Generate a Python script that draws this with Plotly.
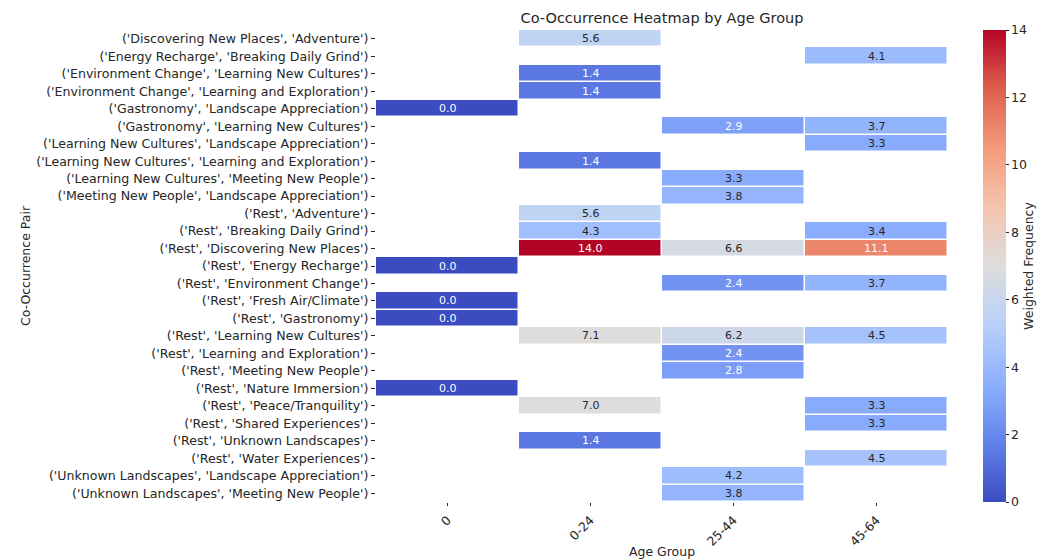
import plotly.graph_objects as go

age_groups = ["0", "0-24", "25-44", "45-64"]

pairs = [
    "('Discovering New Places', 'Adventure')",
    "('Energy Recharge', 'Breaking Daily Grind')",
    "('Environment Change', 'Learning New Cultures')",
    "('Environment Change', 'Learning and Exploration')",
    "('Gastronomy', 'Landscape Appreciation')",
    "('Gastronomy', 'Learning New Cultures')",
    "('Learning New Cultures', 'Landscape Appreciation')",
    "('Learning New Cultures', 'Learning and Exploration')",
    "('Learning New Cultures', 'Meeting New People')",
    "('Meeting New People', 'Landscape Appreciation')",
    "('Rest', 'Adventure')",
    "('Rest', 'Breaking Daily Grind')",
    "('Rest', 'Discovering New Places')",
    "('Rest', 'Energy Recharge')",
    "('Rest', 'Environment Change')",
    "('Rest', 'Fresh Air/Climate')",
    "('Rest', 'Gastronomy')",
    "('Rest', 'Learning New Cultures')",
    "('Rest', 'Learning and Exploration')",
    "('Rest', 'Meeting New People')",
    "('Rest', 'Nature Immersion')",
    "('Rest', 'Peace/Tranquility')",
    "('Rest', 'Shared Experiences')",
    "('Rest', 'Unknown Landscapes')",
    "('Rest', 'Water Experiences')",
    "('Unknown Landscapes', 'Landscape Appreciation')",
    "('Unknown Landscapes', 'Meeting New People')",
]

# values per age group column (None = no data)
age_0 = [None, None, None, None, 0.0, None, None, None, None, None, None, None, None, 0.0,
         None, 0.0, 0.0, None, None, None, 0.0, None, None, None, None, None, None]
age_0_24 = [5.6, None, 1.4, 1.4, None, None, None, 1.4, None, None, 5.6, 4.3, 14.0, None,
            None, None, None, 7.1, None, None, None, 7.0, None, 1.4, None, None, None]
age_25_44 = [None, None, None, None, None, 2.9, None, None, 3.3, 3.8, None, None, 6.6, None,
             2.4, None, None, 6.2, 2.4, 2.8, None, None, None, None, None, 4.2, 3.8]
age_45_64 = [None, 4.1, None, None, None, 3.7, 3.3, None, None, None, None, 3.4, 11.1, None,
             3.7, None, None, 4.5, None, None, None, 3.3, 3.3, None, 4.5, None, None]

columns = [age_0, age_0_24, age_25_44, age_45_64]
z = [[col[i] for col in columns] for i in range(len(pairs))]

zmin, zmax = 0, 14
coolwarm_pts = [
    (0.0, (59, 76, 192)),
    (0.125, (98, 130, 234)),
    (0.25, (141, 176, 254)),
    (0.375, (184, 208, 249)),
    (0.5, (221, 221, 221)),
    (0.625, (245, 196, 173)),
    (0.75, (244, 154, 123)),
    (0.875, (222, 96, 77)),
    (1.0, (180, 4, 38)),
]
colorscale = [[p, "rgb(%d,%d,%d)" % c] for p, c in coolwarm_pts]


def color_at(t):
    for (p0, c0), (p1, c1) in zip(coolwarm_pts[:-1], coolwarm_pts[1:]):
        if p0 <= t <= p1:
            f = (t - p0) / (p1 - p0) if p1 > p0 else 0
            return tuple(c0[k] + f * (c1[k] - c0[k]) for k in range(3))
    return coolwarm_pts[-1][1]


def luminance(rgb):
    vals = []
    for c in rgb:
        c = c / 255.0
        vals.append(c / 12.92 if c <= 0.03928 else ((c + 0.055) / 1.055) ** 2.4)
    return 0.2126 * vals[0] + 0.7152 * vals[1] + 0.0722 * vals[2]


font_family = "DejaVu Sans"

fig = go.Figure(go.Heatmap(
    z=z, x=age_groups, y=pairs,
    colorscale=colorscale, zmin=zmin, zmax=zmax,
    xgap=1.5, ygap=1.5, hoverongaps=False,
    colorbar=dict(
        title=dict(text="Weighted Frequency", side="right", font=dict(size=12.5, color="#262626")),
        tickvals=[0, 2, 4, 6, 8, 10, 12, 14],
        ticks="outside", ticklen=3, tickcolor="#262626",
        tickfont=dict(size=12.5, color="#262626"),
        outlinewidth=0, thickness=23, len=1.0, lenmode="fraction",
        xpad=0, ypad=0,
        x=1.061, xanchor="left", y=0.5, yanchor="middle",
    ),
))

annotations = []
for i, pair in enumerate(pairs):
    for j, ag in enumerate(age_groups):
        v = z[i][j]
        if v is None:
            continue
        rgb = color_at((v - zmin) / (zmax - zmin))
        tc = "#262626" if luminance(rgb) > 0.408 else "white"
        annotations.append(dict(x=ag, y=pair, text="%.1f" % v, showarrow=False,
                                font=dict(size=11, color=tc, family=font_family)))

fig.update_layout(
    width=1053, height=559,
    margin=dict(l=376, r=105, t=30, b=57, autoexpand=False),
    paper_bgcolor="white", plot_bgcolor="white",
    font=dict(family=font_family, color="#262626"),
    title=dict(text="Co-Occurrence Heatmap by Age Group", x=0.5, xref="paper",
               y=1 - 18 / 559, yanchor="middle", font=dict(size=14.5, color="#262626")),
    annotations=annotations,
    xaxis=dict(
        title=dict(text="Age Group", font=dict(size=12.5), standoff=4),
        tickangle=-45, ticks="outside", ticklen=3, tickcolor="#262626",
        tickfont=dict(size=12.5), showgrid=False, zeroline=False, showline=False,
        ticklabelstandoff=2,
    ),
    yaxis=dict(
        title=dict(text="Co-Occurrence Pair", font=dict(size=12.5), standoff=2),
        autorange="reversed", ticks="outside", ticklen=4, tickcolor="#262626",
        tickfont=dict(size=12.6), showgrid=False, zeroline=False, showline=False,
    ),
)

fig.write_html("out.html")
